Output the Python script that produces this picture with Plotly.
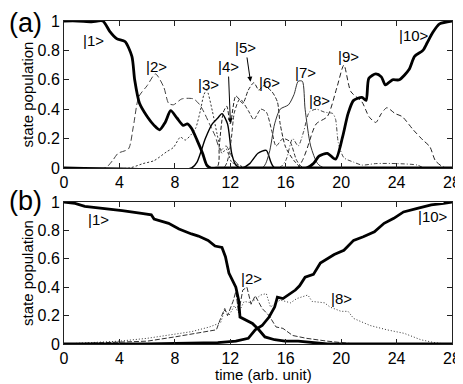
import plotly.graph_objects as go

# ---- panel (a) ----
a1_t = [0, 1, 2, 2.8, 3.3, 3.8, 4.4, 4.9, 5.1, 5.45, 6.0, 6.5, 6.9, 7.3, 7.7, 8.15, 8.6, 8.9, 9.2, 9.6, 10.0, 10.3, 10.6, 11, 28]
a1_p = [1, 1, 0.995, 1, 0.93, 0.88, 0.86, 0.76, 0.6, 0.44, 0.35, 0.29, 0.26, 0.31, 0.39, 0.34, 0.29, 0.30, 0.27, 0.19, 0.10, 0.02, 0, 0, 0]

a2_t = [0, 2.97, 3.5, 3.9, 4.65, 5.0, 5.4, 6.0, 6.6, 7.2, 7.55, 7.9, 8.5, 9.35, 9.8, 10.1, 10.5, 10.9, 11.3, 11.7, 12.1, 12.6, 13, 28]
a2_p = [0, 0, 0.05, 0.10, 0.13, 0.28, 0.485, 0.56, 0.64, 0.55, 0.44, 0.43, 0.47, 0.47, 0.43, 0.38, 0.3, 0.22, 0.12, 0.15, 0.08, 0.02, 0, 0]

a3_t = [0, 4.7, 5.7, 6.5, 7.4, 7.9, 8.4, 8.75, 9.2, 9.5, 9.84, 10.1, 10.3, 10.7, 11.05, 11.4, 11.7, 12.1, 12.6, 13.2, 28]
a3_p = [0, 0, 0.03, 0.05, 0.11, 0.14, 0.21, 0.19, 0.23, 0.27, 0.39, 0.5, 0.53, 0.39, 0.23, 0.1, 0.13, 0.04, 0.02, 0, 0]

a4_t = [0, 9.2, 9.6, 10.2, 10.7, 11.1, 11.4, 11.8, 12.1, 12.4, 12.8, 13.4, 14.0, 14.6, 15.2, 28]
a4_p = [0, 0, 0.04, 0.2, 0.3, 0.34, 0.37, 0.3, 0.1, 0.02, 0, 0.03, 0.1, 0.12, 0, 0]

a5_t = [0, 11.0, 11.2, 11.5, 11.75, 12.0, 12.4, 12.9, 13.3, 13.7, 14.06, 14.4, 15.0, 15.4, 15.6, 16.0, 16.6, 17.2, 28]
a5_p = [0, 0, 0.15, 0.38, 0.42, 0.3, 0.49, 0.44, 0.53, 0.58, 0.53, 0.56, 0.52, 0.45, 0.3, 0.14, 0.05, 0, 0]

a6_t = [0, 11.5, 12.0, 12.3, 12.7, 13.3, 13.7, 14.2, 14.6, 15.0, 15.3, 15.8, 16.3, 16.8, 17.3, 28]
a6_p = [0, 0, 0.15, 0.38, 0.47, 0.39, 0.33, 0.4, 0.38, 0.25, 0.15, 0.2, 0.18, 0.05, 0, 0]

a7_t = [0, 14.3, 14.8, 15.2, 15.6, 16.2, 16.6, 16.9, 17.2, 17.4, 17.8, 18.3, 18.8, 28]
a7_p = [0, 0, 0.1, 0.3, 0.4, 0.43, 0.5, 0.59, 0.59, 0.4, 0.15, 0.03, 0, 0]

a8_t = [0, 15.5, 16.0, 16.5, 16.9, 17.3, 17.7, 18.2, 18.8, 19.4, 19.6, 19.8, 20.2, 20.9, 21.5, 22.5, 24, 25.5, 26, 28]
a8_p = [0, 0, 0.05, 0.2, 0.15, 0.25, 0.38, 0.4, 0.38, 0.37, 0.33, 0.17, 0.07, 0.04, 0.02, 0.03, 0.03, 0.02, 0, 0]

a9_t = [0, 16.8, 17.2, 17.5, 18.2, 19.0, 19.7, 20.2, 20.7, 21.5, 21.8, 22.0, 22.5, 22.9, 23.3, 23.9, 24.4, 25.2, 25.9, 26.4, 26.8, 27.3, 27.6, 28]
a9_p = [0, 0, 0.05, 0.12, 0.3, 0.35, 0.55, 0.70, 0.52, 0.45, 0.39, 0.35, 0.31, 0.37, 0.41, 0.37, 0.35, 0.26, 0.19, 0.145, 0.05, 0.01, 0, 0]

a10_t = [0, 17.5, 18.0, 18.4, 19.0, 19.6, 20.1, 20.5, 20.9, 21.5, 21.8, 22.0, 22.5, 22.9, 23.2, 23.7, 24.2, 24.9, 25.3, 25.9, 26.2, 26.6, 27.1, 28]
a10_p = [0, 0, 0.03, 0.08, 0.1, 0.06, 0.21, 0.37, 0.46, 0.48, 0.46, 0.61, 0.64, 0.62, 0.565, 0.6, 0.6, 0.67, 0.76, 0.80, 0.85, 0.92, 0.98, 1]

# ---- panel (b) ----
b1_t = [0, 0.8, 1.5, 3.0, 4.2, 5.6, 6.3, 6.5, 7.55, 8.3, 8.75, 9.2, 9.7, 10.4, 10.9, 11.4, 11.65, 11.9, 12.4, 12.6, 12.7, 13.1, 13.6, 14.06, 14.5, 15.2, 15.95, 16.9, 17.9, 19, 28]
b1_p = [1, 0.99, 0.97, 0.955, 0.94, 0.92, 0.91, 0.88, 0.85, 0.81, 0.79, 0.775, 0.76, 0.73, 0.69, 0.68, 0.615, 0.50, 0.40, 0.31, 0.19, 0.17, 0.145, 0.10, 0.05, 0.03, 0.02, 0.02, 0.01, 0, 0]

b2_t = [0, 2, 4, 6, 8, 10, 11, 11.3, 11.6, 11.8, 12.2, 12.4, 12.6, 12.9, 13.2, 13.5, 13.8, 14.3, 14.8, 15.3, 15.8, 16.5, 17.5, 19, 20, 21, 28]
b2_p = [0, 0.005, 0.01, 0.02, 0.05, 0.08, 0.1, 0.18, 0.25, 0.2, 0.3, 0.37, 0.22, 0.38, 0.4, 0.28, 0.34, 0.25, 0.2, 0.12, 0.11, 0.06, 0.04, 0.02, 0.01, 0, 0]

b8_t = [0, 2, 4, 6, 8, 9.2, 10.5, 11.3, 11.6, 11.9, 12.3, 12.6, 13.0, 13.5, 14.2, 14.6, 14.9, 15.6, 16.35, 16.8, 17.6, 17.9, 18.8, 19.2, 20.0, 20.5, 20.9, 22.1, 23.3, 24.55, 25.75, 26.7, 27.5, 28]
b8_p = [0, 0.01, 0.02, 0.04, 0.07, 0.087, 0.12, 0.15, 0.24, 0.2, 0.27, 0.22, 0.3, 0.29, 0.345, 0.355, 0.26, 0.31, 0.29, 0.32, 0.345, 0.30, 0.29, 0.26, 0.23, 0.23, 0.18, 0.13, 0.10, 0.075, 0.03, 0.01, 0, 0]

b10_t = [0, 6, 11.1, 12.4, 13.3, 13.8, 14.3, 14.8, 15.2, 15.4, 15.8, 16.3, 16.7, 17.0, 17.4, 18.0, 18.5, 19.5, 20.2, 20.9, 21.6, 22.4, 23.1, 23.8, 24.5, 25.5, 26.5, 27.4, 28]
b10_p = [0, 0, 0.01, 0.02, 0.04, 0.1, 0.13, 0.19, 0.26, 0.33, 0.32, 0.355, 0.38, 0.41, 0.47, 0.49, 0.57, 0.63, 0.66, 0.73, 0.755, 0.79, 0.85, 0.885, 0.93, 0.955, 0.98, 0.99, 1]

x_ticks = [0, 4, 8, 12, 16, 20, 24, 28]
y_ticks = [0, 0.2, 0.4, 0.6, 0.8, 1]
y_ticktext = ["0", "0.2", "0.4", "0.6", "0.8", "1"]

FONT = "Liberation Sans, Arial, sans-serif"

fig = go.Figure()

def add(t, p, width, dash, color, panel, shape):
    fig.add_trace(go.Scatter(
        x=t, y=p, mode="lines",
        line=dict(width=width, dash=dash, color=color, shape=shape, smoothing=0.7 if shape == "spline" else None),
        xaxis="x" if panel == "a" else "x2",
        yaxis="y" if panel == "a" else "y2",
        showlegend=False, hoverinfo="skip"))

# thin curves first, thick on top
add(a2_t, a2_p, 1, "6px,3px", "#444", "a", "spline")
add(a3_t, a3_p, 1, "2px,2px", "#333", "a", "spline")
add(a4_t, a4_p, 1.4, "solid", "black", "a", "spline")
add(a5_t, a5_p, 1, "4px,2px", "#222", "a", "spline")
add(a6_t, a6_p, 1, "4px,2px", "#333", "a", "spline")
add(a7_t, a7_p, 1, "solid", "#333", "a", "spline")
add(a8_t, a8_p, 1, "4px,2px,1px,2px", "#444", "a", "spline")
add(a9_t, a9_p, 1, "5px,3px", "#222", "a", "spline")
add(a1_t, a1_p, 2.8, "solid", "black", "a", "spline")
add(a10_t, a10_p, 2.8, "solid", "black", "a", "spline")

add(b2_t, b2_p, 1, "5px,2px", "#333", "b", "linear")
add(b8_t, b8_p, 1, "1px,2px", "#333", "b", "linear")
add(b1_t, b1_p, 2.8, "solid", "black", "b", "linear")
add(b10_t, b10_p, 2.8, "solid", "black", "b", "linear")

axis_common = dict(
    showline=True, linecolor="#222", linewidth=1, mirror="ticks",
    ticks="inside", ticklen=5, tickcolor="#222",
    showgrid=False, zeroline=False, automargin=False,
    tickfont=dict(size=16, color="black", family=FONT),
)

# page body adds ~8px offset, so the figure is sized to end at the window edge
fig.update_layout(
    width=455, height=376, autosize=False,
    margin=dict(l=56, r=11, t=13, b=40),
    plot_bgcolor="white", paper_bgcolor="white",
    font=dict(family=FONT, size=13, color="black"),
    xaxis=dict(domain=[0, 1], anchor="y", range=[0, 28], tickvals=x_ticks, **axis_common),
    yaxis=dict(domain=[0.5449, 1], anchor="x", range=[0, 1], tickvals=y_ticks, ticktext=y_ticktext,
               title=dict(text="state population", font=dict(size=15), standoff=0), **axis_common),
    xaxis2=dict(domain=[0, 1], anchor="y2", range=[0, 28], tickvals=x_ticks, **axis_common),
    yaxis2=dict(domain=[0, 0.4396], anchor="x2", range=[0, 1], tickvals=y_ticks, ticktext=y_ticktext,
                title=dict(text="state population", font=dict(size=15), standoff=0), **axis_common),
)

# x-axis title placed as annotation to sit closer to the tick labels
fig.add_annotation(text="time (arb. unit)", x=0.515, y=-0.093, xref="paper", yref="paper", showarrow=False,
                   xanchor="center", yanchor="middle", font=dict(size=15, color="black", family=FONT))

lab_font = dict(size=15, color="black", family=FONT)
labels_a = [("|1>", 2.1, 0.87), ("|2>", 6.65, 0.69), ("|3>", 10.4, 0.565), ("|6>", 14.8, 0.58),
            ("|7>", 17.4, 0.65), ("|8>", 18.45, 0.46), ("|9>", 20.55, 0.76), ("|10>", 25.25, 0.9)]
for txt, x, y in labels_a:
    fig.add_annotation(text=txt, x=x, y=y, xref="x", yref="y", showarrow=False, font=lab_font)

# arrowed labels
fig.add_annotation(text="|4>", x=12.01, y=0.304, ax=11.85, ay=0.69, xref="x", yref="y", axref="x", ayref="y",
                   showarrow=True, arrowhead=2, arrowsize=1, arrowwidth=1, arrowcolor="black", font=lab_font)
fig.add_annotation(text="|5>", x=13.46, y=0.587, ax=13.1, ay=0.82, xref="x", yref="y", axref="x", ayref="y",
                   showarrow=True, arrowhead=2, arrowsize=1, arrowwidth=1, arrowcolor="black", font=lab_font)

labels_b = [("|1>", 2.46, 0.88), ("|2>", 13.5, 0.46), ("|8>", 20.0, 0.32), ("|10>", 26.6, 0.895)]
for txt, x, y in labels_b:
    fig.add_annotation(text=txt, x=x, y=y, xref="x2", yref="y2", showarrow=False, font=lab_font)

# panel letters
fig.add_annotation(text="(a)", x=-0.10, y=0.993, xref="paper", yref="paper", showarrow=False,
                   xanchor="center", yanchor="middle", font=dict(size=27, color="black", family=FONT))
fig.add_annotation(text="(b)", x=-0.10, y=0.443, xref="paper", yref="paper", showarrow=False,
                   xanchor="center", yanchor="middle", font=dict(size=27, color="black", family=FONT))

fig.write_html("out.html")
